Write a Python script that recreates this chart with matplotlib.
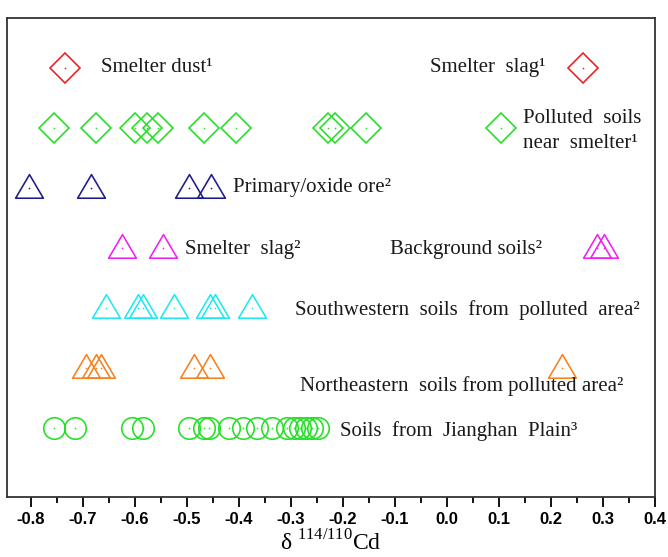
import matplotlib.pyplot as plt
from matplotlib.path import Path
from matplotlib.ticker import MultipleLocator

plt.rcParams['mathtext.fontset'] = 'custom'
plt.rcParams['mathtext.rm'] = 'Liberation Serif'

# delta 114/110 Cd values per sample group
smelter_dust_1 = [-0.735]
smelter_slag_1 = [0.262]
polluted_soils_1 = [-0.756, -0.675, -0.60, -0.577, -0.556, -0.467, -0.406,
                    -0.229, -0.215, -0.156, 0.104]
primary_ore_2 = [-0.804, -0.685, -0.496, -0.454]
smelter_slag_2 = [-0.625, -0.546]
background_soils_2 = [0.289, 0.302]
sw_soils_2 = [-0.656, -0.594, -0.585, -0.525, -0.456, -0.446, -0.375]
ne_soils_2 = [-0.694, -0.675, -0.665, -0.487, -0.456, 0.221]
jianghan_soils_3 = [-0.756, -0.715, -0.606, -0.585, -0.496, -0.467, -0.458,
                    -0.419, -0.392, -0.365, -0.337, -0.308, -0.294, -0.283,
                    -0.271, -0.260, -0.248]

# equilateral-ish triangle marker
tri = Path([(-1, -0.7), (1, -0.7), (0, 1.0), (-1, -0.7)],
           [Path.MOVETO, Path.LINETO, Path.LINETO, Path.CLOSEPOLY])

groups = [
    (smelter_dust_1, 7, 'D', 15, '#ee1c1c'),
    (smelter_slag_1, 7, 'D', 15, '#ee1c1c'),
    (polluted_soils_1, 6, 'D', 15, '#22e022'),
    (primary_ore_2, 5, tri, 20, '#1a1a8c'),
    (smelter_slag_2, 4, tri, 20, '#f020f0'),
    (background_soils_2, 4, tri, 20, '#f020f0'),
    (sw_soils_2, 3, tri, 20, '#20e8f0'),
    (ne_soils_2, 2, tri, 20, '#f58220'),
    (jianghan_soils_3, 1, 'o', 15.5, '#22e022'),
]

fig = plt.figure(figsize=(6.68, 5.57), dpi=100)
ax = fig.add_axes([0.0105, 0.108, 0.97, 0.8595])

for xs, row, mk, ms, col in groups:
    ys = [row] * len(xs)
    ax.plot(xs, ys, linestyle='none', marker=mk, markersize=ms,
            markerfacecolor='none', markeredgecolor=col, markeredgewidth=1.15)
    ax.plot(xs, ys, linestyle='none', marker='o', markersize=1.2,
            markerfacecolor=col, markeredgecolor='none')

tk = dict(fontsize=15, family='Liberation Serif', color='#1a1a1a', va='center')
ax.text(-0.665, 7.0, 'Smelter dust¹', **tk)
ax.text(-0.033, 7.0, 'Smelter  slag¹', **tk)
ax.text(0.146, 5.95, 'Polluted  soils\nnear  smelter¹', linespacing=1.4, **tk)
ax.text(-0.412, 5.0, 'Primary/oxide ore²', **tk)
ax.text(-0.504, 3.98, 'Smelter  slag²', **tk)
ax.text(-0.110, 3.98, 'Background soils²', **tk)
ax.text(-0.292, 2.97, 'Southwestern  soils  from  polluted  area²', **tk)
ax.text(-0.283, 1.7, 'Northeastern  soils from polluted area²', **tk)
ax.text(-0.206, 0.94, 'Soils  from  Jianghan  Plain³', **tk)

ax.set_xlim(-0.846, 0.4)
ax.set_ylim(-0.15, 7.83)
ax.xaxis.set_minor_locator(MultipleLocator(0.05))
ax.set_xticks([-0.8, -0.7, -0.6, -0.5, -0.4, -0.3, -0.2, -0.1, 0.0, 0.1, 0.2, 0.3, 0.4])
ax.set_xticklabels(['-0.8', '-0.7', '-0.6', '-0.5', '-0.4', '-0.3', '-0.2',
                    '-0.1', '0.0', '0.1', '0.2', '0.3', '0.4'],
                   fontsize=12, fontweight='bold', family='Liberation Sans')
ax.set_yticks([])
ax.tick_params(axis='x', which='major', direction='out', length=7, width=1.3, pad=4)
ax.tick_params(axis='x', which='minor', direction='out', length=4, width=1.3)
for sp in ax.spines.values():
    sp.set_linewidth(1.3)
    sp.set_color('#333333')

ax.set_xlabel('δ $^{114/110}$Cd', fontsize=17, family='Liberation Serif',
              labelpad=2)

fig.savefig('out.png', dpi=100)
